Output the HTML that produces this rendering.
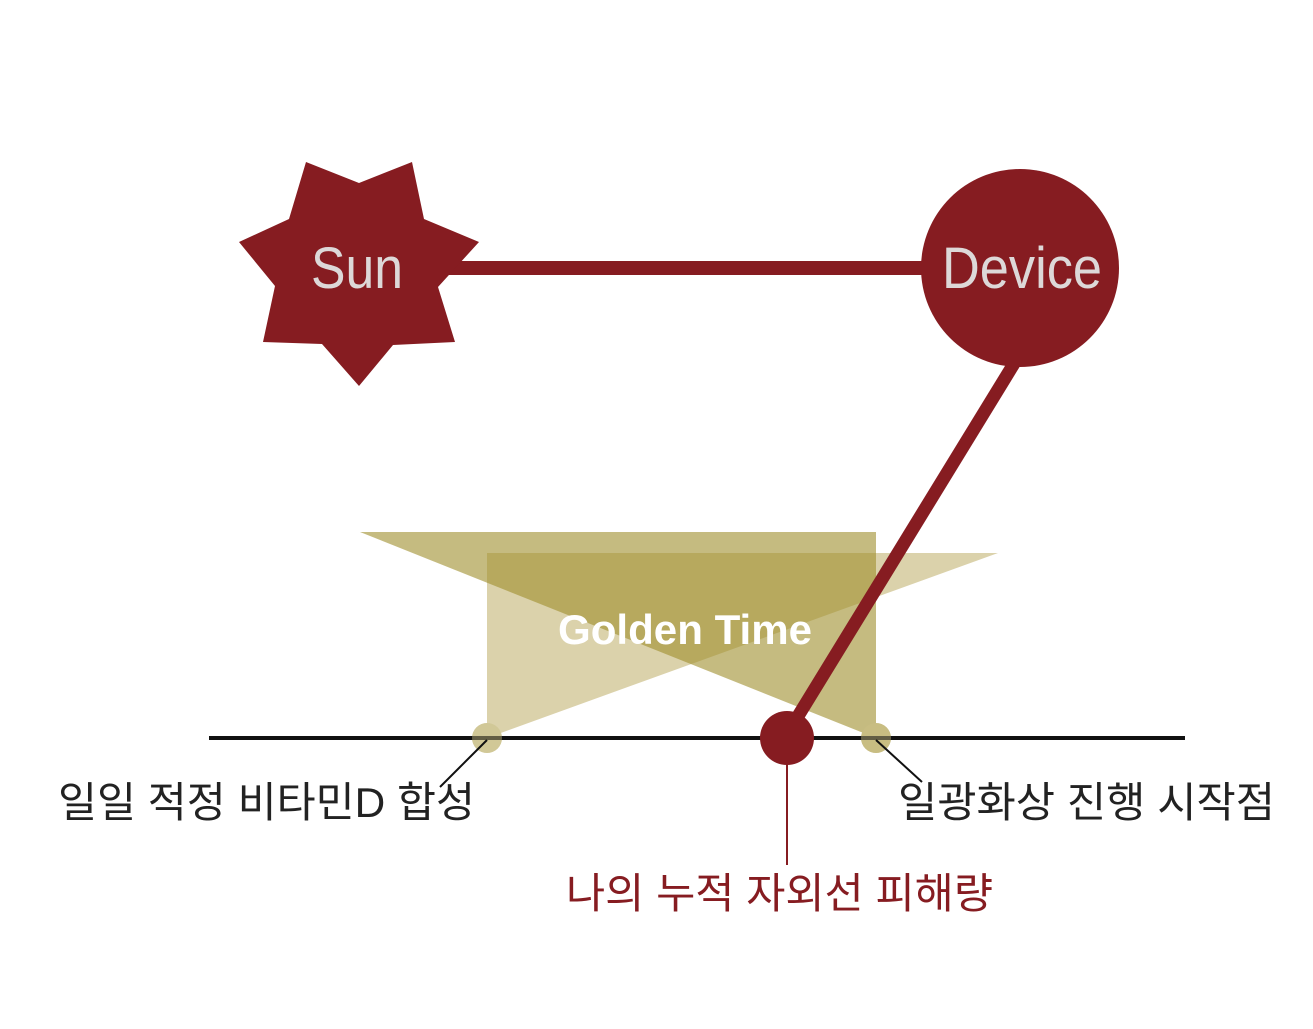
<!DOCTYPE html>
<html><head><meta charset="utf-8"><style>
html,body{margin:0;padding:0;background:#fff;}
svg{display:block}
</style></head><body>
<svg width="1313" height="1029" viewBox="0 0 1313 1029" xmlns="http://www.w3.org/2000/svg">
<rect width="1313" height="1029" fill="#fff"/>
<polygon points="487,553 998,553 487,738" fill="#dbd2ab"/>
<polygon points="360,532 876,532 876,738" fill="#9e8e2b" opacity="0.6"/>
<circle cx="487" cy="738" r="15" fill="#d9d1a8"/>
<circle cx="876" cy="738" r="15" fill="#c8bd82"/>
<line x1="209" y1="738" x2="1185" y2="738" stroke="#111" stroke-width="4"/>
<circle cx="487" cy="738" r="15" fill="#c8bd82" opacity="0.45"/>
<circle cx="876" cy="738" r="15" fill="#c8bd82" opacity="0.45"/>
<line x1="487" y1="740" x2="440" y2="787" stroke="#111" stroke-width="2"/>
<line x1="876" y1="740" x2="922" y2="782" stroke="#111" stroke-width="2"/>
<text x="558" y="644" textLength="254" lengthAdjust="spacingAndGlyphs" font-family="Liberation Sans, sans-serif" font-weight="bold" font-size="42" fill="#fff">Golden Time</text>
<line x1="440" y1="268" x2="930" y2="268" stroke="#861c21" stroke-width="14"/>
<line x1="1015" y1="362" x2="792" y2="726" stroke="#861c21" stroke-width="13"/>
<line x1="787" y1="740" x2="787" y2="865" stroke="#861c21" stroke-width="2"/>
<circle cx="787" cy="738" r="27" fill="#861c21"/>
<polygon points="306,162 359,183 412,162 424,219 479,242 438,287 455,342 393,345 359,386 322,344 263,342 275,286 239,242 289,219" fill="#861c21"/>
<circle cx="1020" cy="268" r="99" fill="#861c21"/>
<text x="311" y="288" textLength="92" lengthAdjust="spacingAndGlyphs" font-family="Liberation Sans, sans-serif" font-size="58" fill="#ddd8d8">Sun</text>
<text x="942" y="288" textLength="160" lengthAdjust="spacingAndGlyphs" font-family="Liberation Sans, sans-serif" font-size="58" fill="#ddd8d8">Device</text>
<text x="58" y="817" textLength="417" lengthAdjust="spacingAndGlyphs" font-family="Liberation Sans, 'Noto Sans CJK KR', sans-serif" font-size="42" fill="#222">일일 적정 비타민D 합성</text>
<text x="898" y="817" textLength="377" lengthAdjust="spacingAndGlyphs" font-family="Liberation Sans, 'Noto Sans CJK KR', sans-serif" font-size="42" fill="#222">일광화상 진행 시작점</text>
<text x="566" y="908" textLength="427" lengthAdjust="spacingAndGlyphs" font-family="Liberation Sans, 'Noto Sans CJK KR', sans-serif" font-size="42" fill="#861c21">나의 누적 자외선 피해량</text>
</svg>
</body></html>
